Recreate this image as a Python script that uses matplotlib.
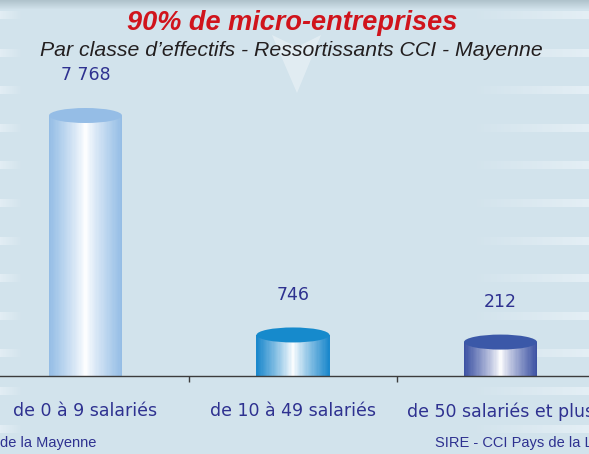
import numpy as np
import matplotlib
matplotlib.use("Agg")
import matplotlib.pyplot as plt
from matplotlib.patches import Ellipse, Polygon
from matplotlib.transforms import IdentityTransform

# ---- data ----
categories = ["de 0 à 9 salariés", "de 10 à 49 salariés", "de 50 salariés et plus"]
values = [7768, 746, 212]
value_labels = ["7 768", "746", "212"]
title = "90% de micro-entreprises"
subtitle = "Par classe d\u2019effectifs - Ressortissants CCI - Mayenne"
source_left = "de la Mayenne"
source_right = "SIRE - CCI Pays de la Loire"

W, H = 589, 454
fig = plt.figure(figsize=(W / 100, H / 100), dpi=100)

# ---- decorative background ----
bg = np.array([210, 227, 236]) / 255.0
stripe_col = np.array([230, 240, 246]) / 255.0
img = np.ones((H, W, 3)) * bg
yy = np.arange(H)[:, None]
xx = np.arange(W)[None, :]
top = np.array([176, 195, 204]) / 255.0
f = np.clip(1 - yy / 9.0, 0, 1)[..., None]
img = img * (1 - f) + top * f
for k in range(12):
    c = 14.5 + 37.6 * k
    rows = (yy >= c - 4) & (yy < c + 4)
    left_w = np.clip(1 - xx / 22.0, 0, 1)
    right_w = np.clip((xx - 470) / 119.0, 0, 1) * 0.9
    wgt = (rows * np.maximum(left_w * 0.8, right_w))[..., None]
    img = img * (1 - wgt) + stripe_col * wgt
bax = fig.add_axes([0, 0, 1, 1])
bax.imshow(img, extent=(0, W, H, 0), aspect="auto", interpolation="nearest")
bax.set_xlim(0, W)
bax.set_ylim(H, 0)
bax.axis("off")
bax.add_patch(Polygon([(272, 35), (297, 47), (321, 35), (297, 93)],
                      closed=True, facecolor="#e4eef4", edgecolor="none", alpha=0.85))

# ---- chart axes ----
p = 1.4
fwd = lambda v: np.sign(v) * np.abs(v) ** p
inv = lambda t: np.sign(t) * np.abs(t) ** (1 / p)
ymin = -1930

ax = fig.add_axes([0, 78 / H, 1, 260.5 / H])
ax.patch.set_alpha(0)
ax.set_yscale("function", functions=(fwd, inv))
ax.set_xlim(-85.5 / 207.5, (W - 85.5) / 207.5)
ax.set_ylim(ymin, max(values))
for s in ["top", "left", "right"]:
    ax.spines[s].set_visible(False)
ax.spines["bottom"].set_color("#3c3c3c")
ax.spines["bottom"].set_linewidth(1.0)
ax.set_yticks([])
ax.set_xticks(range(len(categories)))
ax.set_xticklabels(categories, fontsize=12.5, color="#2e3190", family="DejaVu Sans")
ax.tick_params(axis="x", which="major", length=0, pad=19)
ax.set_xticks([0.5, 1.5], minor=True)
ax.tick_params(axis="x", which="minor", length=4, width=1, color="#3c3c3c")

edge_cols = ["#93bce5", "#1886cb", "#3a50a2"]
cap_cols = ["#95bde6", "#168acc", "#3b58a8"]
bw = 73 / 207.5
N = 60
white = np.array([1.0, 1.0, 1.0])
fig.canvas.draw()
for i, v in enumerate(values):
    ec = np.array(matplotlib.colors.to_rgb(edge_cols[i]))
    xs = i - bw / 2 + (np.arange(N) + 0.5) * bw / N
    t = np.abs((np.arange(N) + 0.5) / N - 0.5) * 2
    m = t ** 0.85
    cols = white * (1 - m[:, None]) + ec * m[:, None]
    ax.bar(xs, [v - ymin] * N, bottom=ymin, width=bw / N * 1.02,
           color=cols, edgecolor="none", linewidth=0, zorder=2)
    cx, cy = ax.transData.transform((i, v))
    ax.add_patch(Ellipse((cx, cy), 73, 15, transform=IdentityTransform(),
                         facecolor=cap_cols[i], edgecolor="none", zorder=3, clip_on=False))
    ax.annotate(value_labels[i], xy=(i, v), xytext=(0, 28.8), textcoords="offset points",
                ha="center", va="center", fontsize=12.5, color="#2e3190",
                family="DejaVu Sans", annotation_clip=False)

# ---- texts ----
fig.text(292.5 / W, 1 - 23 / H, title, ha="center", va="center", fontsize=19.5,
         fontweight="bold", fontstyle="italic", color="#d0141c", family="Liberation Sans")
fig.text(40 / W, 1 - 50 / H, subtitle, ha="left", va="center", fontsize=15.3,
         fontstyle="italic", color="#231f20", family="Liberation Sans")
fig.text(0, 1 - 443 / H, source_left, ha="left", va="center", fontsize=10.5,
         color="#2e3190", family="Liberation Sans")
fig.text(435 / W, 1 - 443 / H, source_right, ha="left", va="center", fontsize=10.5,
         color="#2e3190", family="Liberation Sans")

fig.savefig("out.png", dpi=100)
